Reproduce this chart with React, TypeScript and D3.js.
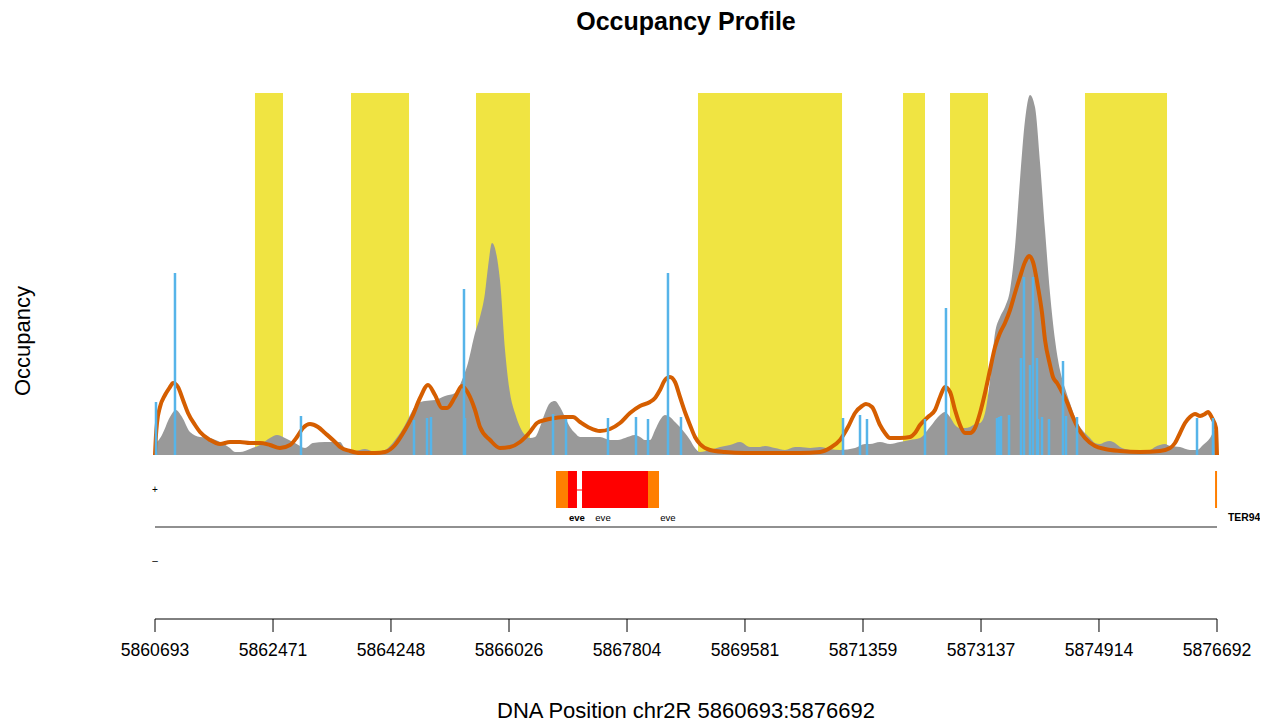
import React from "react";
import * as d3 from "d3";

const START = 5860693;
const END = 5876692;

const tickValues = [5860693, 5862471, 5864248, 5866026, 5867804, 5869581, 5871359, 5873137, 5874914, 5876692];

// nucleosome-free / highlighted regions [start, end]
const yellowRegions: [number, number][] = [
  [5862199, 5862621], [5863646, 5864520], [5865529, 5866342], [5868873, 5871043],
  [5871962, 5872293], [5872670, 5873242], [5874703, 5875939],
];

// grey occupancy profile [position, occupancy]
const greyProfile: [number, number][] = [
  [5860693, 0.12], [5860738, 0.14], [5860798, 0.2], [5860919, 0.38], [5861009, 0.45], [5861100, 0.38],
  [5861220, 0.23], [5861371, 0.18], [5861522, 0.17], [5861672, 0.13], [5861823, 0.07], [5861898, 0.03],
  [5861974, 0.03], [5862124, 0.06], [5862275, 0.1], [5862425, 0.17], [5862531, 0.2], [5862651, 0.17],
  [5862802, 0.12], [5862953, 0.07], [5863073, 0.12], [5863254, 0.13], [5863480, 0.13], [5863555, 0.07],
  [5863706, 0.04], [5863857, 0.06], [5864007, 0.03], [5864158, 0.05], [5864309, 0.15], [5864459, 0.3],
  [5864535, 0.4], [5864655, 0.52], [5864761, 0.54], [5864911, 0.55], [5865062, 0.59], [5865213, 0.62],
  [5865318, 0.75], [5865408, 0.92], [5865514, 1.22], [5865589, 1.38], [5865664, 1.62], [5865710, 1.88],
  [5865770, 2.12], [5865890, 1.75], [5865966, 1.05], [5866041, 0.62], [5866116, 0.42], [5866192, 0.28],
  [5866267, 0.2], [5866342, 0.17], [5866418, 0.18], [5866493, 0.28], [5866568, 0.42], [5866644, 0.52],
  [5866719, 0.54], [5866794, 0.48], [5866870, 0.38], [5866945, 0.28], [5867020, 0.22], [5867096, 0.18],
  [5867246, 0.18], [5867397, 0.18], [5867548, 0.15], [5867668, 0.15], [5867774, 0.17], [5867924, 0.2],
  [5868000, 0.18], [5868075, 0.15], [5868150, 0.15], [5868226, 0.25], [5868301, 0.35], [5868376, 0.4],
  [5868451, 0.38], [5868527, 0.33], [5868602, 0.28], [5868677, 0.22], [5868753, 0.15], [5868828, 0.07],
  [5868903, 0.03], [5869054, 0.05], [5869205, 0.08], [5869355, 0.1], [5869506, 0.13], [5869657, 0.08],
  [5869807, 0.08], [5869883, 0.09], [5870033, 0.07], [5870184, 0.05], [5870335, 0.08], [5870410, 0.08],
  [5870561, 0.07], [5870711, 0.08], [5870862, 0.06], [5871013, 0.05], [5871239, 0.07], [5871389, 0.11],
  [5871464, 0.11], [5871615, 0.13], [5871766, 0.11], [5871916, 0.13], [5872067, 0.15], [5872218, 0.17],
  [5872368, 0.28], [5872519, 0.4], [5872594, 0.43], [5872670, 0.38], [5872745, 0.3], [5872820, 0.27],
  [5872896, 0.27], [5872971, 0.28], [5873046, 0.31], [5873122, 0.32], [5873197, 0.42], [5873272, 0.75],
  [5873348, 1.22], [5873423, 1.38], [5873498, 1.48], [5873574, 1.65], [5873649, 2.08], [5873724, 2.75],
  [5873800, 3.35], [5873875, 3.6], [5873950, 3.48], [5874026, 2.92], [5874101, 2.25], [5874176, 1.62],
  [5874252, 1.15], [5874327, 0.85], [5874402, 0.67], [5874477, 0.52], [5874553, 0.38], [5874628, 0.28],
  [5874703, 0.22], [5874779, 0.17], [5874854, 0.12], [5874929, 0.11], [5875005, 0.13], [5875080, 0.14],
  [5875155, 0.12], [5875231, 0.08], [5875381, 0.05], [5875532, 0.04], [5875683, 0.05], [5875758, 0.08],
  [5875833, 0.1], [5875909, 0.11], [5875984, 0.09], [5876135, 0.08], [5876285, 0.05], [5876391, 0.05],
  [5876481, 0.1], [5876587, 0.17], [5876662, 0.25], [5876692, 0.25],
];

// smoothed occupancy (orange line) [position, occupancy]
const smoothProfile: [number, number][] = [
  [5860693, 0.0], [5860708, 0.2], [5860723, 0.32], [5860768, 0.48], [5860844, 0.6], [5860919, 0.68],
  [5860964, 0.72], [5861039, 0.68], [5861115, 0.55], [5861190, 0.42], [5861296, 0.3], [5861371, 0.23],
  [5861522, 0.15], [5861672, 0.11], [5861823, 0.13], [5861974, 0.13], [5862124, 0.12], [5862275, 0.12],
  [5862425, 0.1], [5862576, 0.07], [5862727, 0.1], [5862832, 0.18], [5862923, 0.27], [5863028, 0.31],
  [5863149, 0.28], [5863254, 0.22], [5863405, 0.13], [5863480, 0.08], [5863631, 0.04], [5863781, 0.02],
  [5864007, 0.02], [5864158, 0.03], [5864309, 0.1], [5864459, 0.25], [5864565, 0.38], [5864685, 0.57],
  [5864806, 0.7], [5864911, 0.6], [5865017, 0.47], [5865092, 0.47], [5865213, 0.58], [5865318, 0.69],
  [5865408, 0.62], [5865514, 0.45], [5865589, 0.28], [5865740, 0.15], [5865890, 0.07], [5866041, 0.08],
  [5866192, 0.13], [5866342, 0.23], [5866448, 0.32], [5866568, 0.35], [5866719, 0.37], [5866870, 0.38],
  [5866990, 0.38], [5867096, 0.33], [5867246, 0.27], [5867397, 0.24], [5867548, 0.26], [5867698, 0.32],
  [5867849, 0.42], [5868000, 0.49], [5868150, 0.53], [5868226, 0.57], [5868301, 0.65], [5868376, 0.75],
  [5868451, 0.78], [5868527, 0.73], [5868602, 0.58], [5868677, 0.43], [5868753, 0.3], [5868828, 0.18],
  [5868903, 0.11], [5869054, 0.05], [5869280, 0.03], [5869581, 0.02], [5869958, 0.02], [5870410, 0.02],
  [5870711, 0.03], [5870862, 0.07], [5871013, 0.15], [5871133, 0.28], [5871239, 0.42], [5871344, 0.49],
  [5871404, 0.51], [5871495, 0.48], [5871615, 0.3], [5871690, 0.22], [5871766, 0.17], [5871916, 0.17],
  [5872067, 0.18], [5872142, 0.22], [5872218, 0.3], [5872338, 0.38], [5872444, 0.45], [5872519, 0.58],
  [5872594, 0.68], [5872670, 0.63], [5872745, 0.45], [5872820, 0.3], [5872896, 0.22], [5872971, 0.22],
  [5873046, 0.27], [5873122, 0.42], [5873197, 0.62], [5873272, 0.85], [5873348, 1.08], [5873423, 1.22],
  [5873498, 1.32], [5873574, 1.45], [5873649, 1.62], [5873724, 1.78], [5873800, 1.93], [5873860, 1.99],
  [5873920, 1.93], [5873995, 1.68], [5874056, 1.42], [5874101, 1.15], [5874176, 0.9], [5874221, 0.78],
  [5874282, 0.72], [5874357, 0.63], [5874432, 0.53], [5874508, 0.4], [5874598, 0.27], [5874703, 0.17],
  [5874854, 0.09], [5875005, 0.06], [5875231, 0.04], [5875532, 0.03], [5875833, 0.04], [5875984, 0.07],
  [5876059, 0.12], [5876135, 0.22], [5876210, 0.32], [5876285, 0.38], [5876361, 0.41], [5876436, 0.39],
  [5876511, 0.41], [5876556, 0.43], [5876617, 0.37], [5876677, 0.27], [5876692, 0.0],
];

// binding sites (blue bars) [position, height]
const sites: [number, number][] = [
  [5860708, 0.53], [5860994, 1.82], [5862892, 0.39], [5864595, 0.35], [5864791, 0.37], [5864851, 0.38],
  [5865348, 1.66], [5865363, 0.37], [5866689, 0.41], [5866885, 0.36], [5867517, 0.37], [5867939, 0.38],
  [5868120, 0.36], [5868421, 1.82], [5868617, 0.38], [5871058, 0.37], [5871314, 0.4], [5871419, 0.36],
  [5872293, 0.36], [5872609, 1.47], [5873378, 0.37], [5873408, 0.38], [5873438, 0.39], [5873559, 0.4],
  [5873739, 0.97], [5873784, 1.78], [5873875, 0.9], [5873920, 1.78], [5873980, 0.97], [5873995, 0.36],
  [5874056, 0.38], [5874161, 0.36], [5874372, 0.94], [5874417, 0.39], [5874583, 0.38], [5876391, 0.37],
  [5876632, 0.37],
];

// gene features on + strand: [start, end, type]
const geneFeatures: [number, number, string][] = [
  [5866734, 5866915, "utr"], [5866915, 5867050, "cds"], [5867126, 5868120, "cds"], [5868120, 5868286, "utr"],
];
const introns: [number, number][] = [[5867050, 5867126]];
const terFeature: [number, number][] = [[5876670, 5876692]];
const geneLabels: [number, string, boolean][] = [
  [5867050, "eve", true], [5867442, "eve", false], [5868421, "eve", false],
];
const terLabel: [number, string] = [5876858, "TER94"];

const FONT = "'Liberation Sans', Arial, Helvetica, sans-serif";

export default function App() {
  const x = d3.scaleLinear().domain([START, END]).range([155, 1217]);
  const y = d3.scaleLinear().domain([0, 3.62]).range([455, 93]);

  const area = d3.area<[number, number]>()
    .x(d => x(d[0]))
    .y0(y(0))
    .y1(d => y(d[1]))
    .curve(d3.curveMonotoneX);
  const line = d3.line<[number, number]>()
    .x(d => x(d[0]))
    .y(d => y(d[1]))
    .curve(d3.curveMonotoneX);

  const featTop = 471, featBot = 508;
  const axisY = 619;

  return (
    <svg width={1266} height={722} style={{ position: "absolute", left: 0, top: 0, background: "#fff" }}
      fontFamily={FONT}>
      <defs>
        <clipPath id="devclip"><rect x={0} y={0} width={1260} height={722} /></clipPath>
      </defs>
      <text x={686} y={30} textAnchor="middle" fontSize={25} fontWeight="bold">Occupancy Profile</text>

      {yellowRegions.map(([s, e], i) => (
        <rect key={i} x={x(s)} y={y(3.62)} width={x(e) - x(s)} height={y(0) - y(3.62)} fill="#F0E442" />
      ))}
      <path d={area(greyProfile) || ""} fill="#999999" />
      <path d={line(smoothProfile) || ""} fill="none" stroke="#D55E00" strokeWidth={4} strokeLinejoin="round" />
      {sites.map(([p, v], i) => (
        <line key={i} x1={x(p)} x2={x(p)} y1={y(0)} y2={y(v)} stroke="#56B4E9" strokeWidth={2.5} />
      ))}

      {/* gene track */}
      <text x={155} y={493} textAnchor="middle" fontSize={10}>+</text>
      <text x={155} y={564} textAnchor="middle" fontSize={10}>–</text>
      <line x1={x(START)} x2={x(END)} y1={527} y2={527} stroke="#6b6b6b" strokeWidth={1.5} />
      {introns.map(([s, e], i) => (
        <line key={i} x1={x(s)} x2={x(e)} y1={490} y2={490} stroke="#FF0000" strokeWidth={1} />
      ))}
      {geneFeatures.map(([s, e, t], i) => (
        <rect key={i} x={x(s)} y={featTop} width={x(e) - x(s)} height={featBot - featTop}
          fill={t === "cds" ? "#FF0000" : "#FF7F00"} />
      ))}
      {terFeature.map(([s], i) => (
        <line key={i} x1={x(s) + 0.5} x2={x(s) + 0.5} y1={featTop} y2={featBot} stroke="#FF7F00" strokeWidth={2} />
      ))}
      {geneLabels.map(([p, t, b], i) => (
        <text key={i} x={x(p)} y={521} textAnchor="middle" fontSize={9.6} fontWeight={b ? "bold" : "normal"}>{t}</text>
      ))}
      <g clipPath="url(#devclip)">
        <text x={x(terLabel[0])} y={521} fontSize={10.4} fontWeight="bold">{terLabel[1]}</text>
      </g>

      {/* x axis */}
      <line x1={x(tickValues[0])} x2={x(tickValues[tickValues.length - 1])} y1={axisY} y2={axisY} stroke="#000" strokeWidth={1} />
      {tickValues.map((t, i) => (
        <g key={i}>
          <line x1={x(t)} x2={x(t)} y1={axisY} y2={axisY + 13} stroke="#000" strokeWidth={1} />
          <text x={x(t)} y={656} textAnchor="middle" fontSize={17.6}>{t}</text>
        </g>
      ))}
      <text x={686} y={718} textAnchor="middle" fontSize={22}>DNA Position chr2R 5860693:5876692</text>
      <text transform="translate(30,341) rotate(-90)" textAnchor="middle" fontSize={22}>Occupancy</text>
    </svg>
  );
}
